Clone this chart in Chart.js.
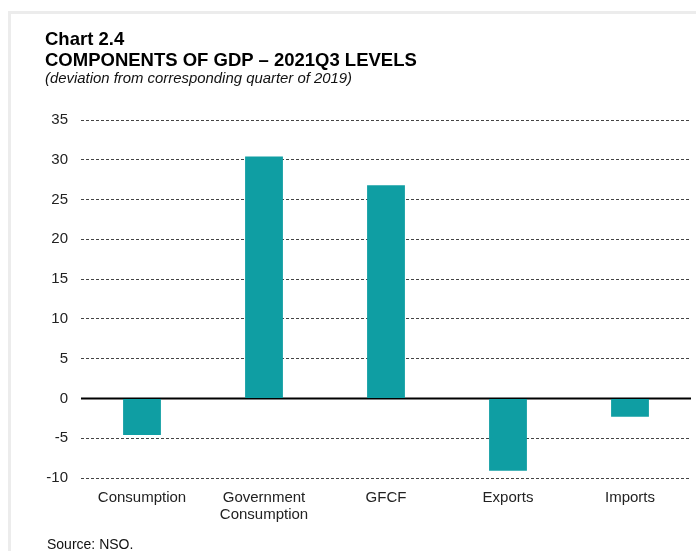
<!DOCTYPE html>
<html>
<head>
<meta charset="utf-8">
<script src="https://cdn.jsdelivr.net/npm/chart.js@4"></script>
<style>
  body { margin: 0; background: #fff; font-family: "Liberation Sans", Arial, sans-serif; }
  #wrap { position: relative; width: 696px; height: 551px; overflow: hidden; }
  #frame { position: absolute; left: 8px; top: 11px; width: 700px; height: 600px;
           border-left: 3px solid #ececec; border-top: 3px solid #ececec; }
  .t1 { position: absolute; left: 45px; font-weight: bold; font-size: 18.5px; color: #000; }
  .sub { position: absolute; left: 45px; top: 70px; font-style: italic; font-size: 14.9px; color: #111; }
  .src { position: absolute; left: 47px; top: 536px; font-size: 14px; color: #111; }
  #box { position: absolute; left: 0; top: 0; width: 696px; height: 551px; }
</style>
</head>
<body>
<div id="wrap">
  <div id="frame"></div>
  <div id="box"><canvas id="myChart"></canvas></div>
  <div class="t1" style="top:28px">Chart 2.4</div>
  <div class="t1" style="top:49px">COMPONENTS OF GDP – 2021Q3 LEVELS</div>
  <div class="sub">(deviation from corresponding quarter of 2019)</div>
  <div class="src">Source: NSO.</div>
</div>
<script>
var labels = ["Consumption", ["Government", "Consumption"], "GFCF", "Exports", "Imports"]; // categories
var values = [-4.6, 30.4, 26.8, -9.1, -2.3]; // % deviation from same quarter of 2019
var yTicks = [-10, -5, 0, 5, 10, 15, 20, 25, 30, 35];

// solid black line at zero, the grid draws the rest dashed
var zeroLine = {
  id: 'zeroLine',
  beforeDatasetsDraw: function (chart) {
    var c = chart.ctx, a = chart.chartArea;
    var y = chart.scales.y.getPixelForValue(0);
    c.save();
    c.strokeStyle = '#000';
    c.lineWidth = 2;
    c.beginPath();
    c.moveTo(a.left, y);
    c.lineTo(a.right, y);
    c.stroke();
    c.restore();
  }
};

var ctx = document.getElementById('myChart').getContext('2d');
var chart = new Chart(ctx, {
  type: 'bar',
  data: {
    labels: labels,
    datasets: [{
      data: values,
      backgroundColor: '#0f9ea3',
      barPercentage: 0.31,
      categoryPercentage: 1
    }]
  },
  options: {
    responsive: true,
    maintainAspectRatio: false,
    animation: false,
    layout: { padding: { left: 0, right: 5, top: 120, bottom: 0 } },
    plugins: { legend: { display: false }, tooltip: { enabled: false } },
    scales: {
      x: {
        grid: { display: false },
        border: { display: false },
        ticks: { color: '#222', font: { family: 'Liberation Sans', size: 15, lineHeight: 1.13 }, padding: 3, maxRotation: 0, autoSkip: false },
        afterFit: function (s) { s.height = 73; }
      },
      y: {
        min: -10, max: 35,
        afterBuildTicks: function (s) { s.ticks = yTicks.map(function (v) { return { value: v }; }); },
        grid: {
          drawTicks: false,
          color: function (c) { return c.tick && c.tick.value === 0 ? 'rgba(0,0,0,0)' : '#444'; },
          lineWidth: 1
        },
        border: { display: false, dash: [3, 2] },
        ticks: { color: '#222', font: { family: 'Liberation Sans', size: 15 }, padding: 13 },
        afterFit: function (s) { s.width = 81; }
      }
    }
  },
  plugins: [zeroLine]
});
</script>
</body>
</html>
